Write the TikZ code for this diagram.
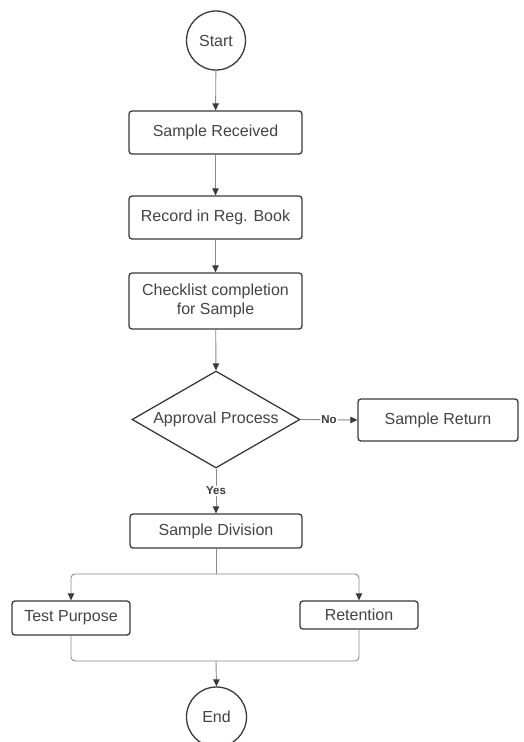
\documentclass[tikz,border=0pt]{standalone}
\usepackage{fontspec}
\setmainfont{Liberation Sans}
\usetikzlibrary{shapes.geometric,arrows.meta}
\definecolor{boxc}{HTML}{3A3A3A}
\definecolor{txtc}{HTML}{444444}
\definecolor{linec}{HTML}{8A8A8A}
\begin{document}
\begin{tikzpicture}[x=1pt,y=-1pt,
  base/.style={draw=boxc, line width=1.3pt, fill=white, text=txtc, align=center, inner sep=0pt,
    font=\fontsize{16}{19.5}\selectfont},
  box/.style={base, rectangle, rounded corners=3pt},
  term/.style={base, circle},
  decide/.style={base, diamond, aspect=1.73},
  conn/.style={draw=linec, line width=0.9pt, rounded corners=4pt,
    -{Triangle[length=7pt,width=6.5pt,fill=boxc,color=boxc]}},
  plain/.style={draw=linec, line width=0.9pt, rounded corners=4pt},
  lbl/.style={fill=white, text=boxc, font=\fontsize{11.5}{13}\selectfont\bfseries, inner sep=1pt}
]
\useasboundingbox[fill=white] (0,0) rectangle (523,742);

\node[term, minimum size=59pt] (start) at (216,40.5) {Start};
\node[box, minimum width=173pt, minimum height=43pt] (recv) at (215.5,132.5) {Sample Received};
\node[box, minimum width=173pt, minimum height=43pt] (rec) at (215.5,217.5) {Record in Reg. Book};
\node[box, minimum width=173pt, minimum height=56pt] (chk) at (215.5,301) {Checklist completion\\for Sample};
\node[decide, minimum width=168pt, minimum height=97pt] (dia) at (216,419.5) {Approval Process};
\node[box, minimum width=160pt, minimum height=42pt] (ret) at (438,420) {Sample Return};
\node[box, minimum width=172pt, minimum height=34pt] (div) at (216,531) {Sample Division};
\node[box, minimum width=118pt, minimum height=34pt] (test) at (71,618) {Test Purpose};
\node[box, minimum width=118pt, minimum height=28pt] (retn) at (359,615) {Retention};
\node[term, minimum size=60pt] (end) at (216.5,717) {End};

\coordinate (split) at (216,574);
\coordinate (join) at (216,661);

\draw[conn] (start) -- (recv);
\draw[conn] (recv) -- (rec);
\draw[conn] (rec) -- (chk);
\draw[conn] (chk) -- (dia.north);
\draw[conn] (dia.east) -- node[lbl] {No} (ret.west);
\draw[conn] (dia.south) -- node[lbl] {Yes} (div.north);
\draw[plain] (div.south) -- (split);
\draw[conn] (split) -| (test.north);
\draw[conn] (split) -| (retn.north);
\draw[plain] (test.south) |- (join);
\draw[plain] (retn.south) |- (join);
\draw[conn] (join) -- (end.north);
\end{tikzpicture}
\end{document}
